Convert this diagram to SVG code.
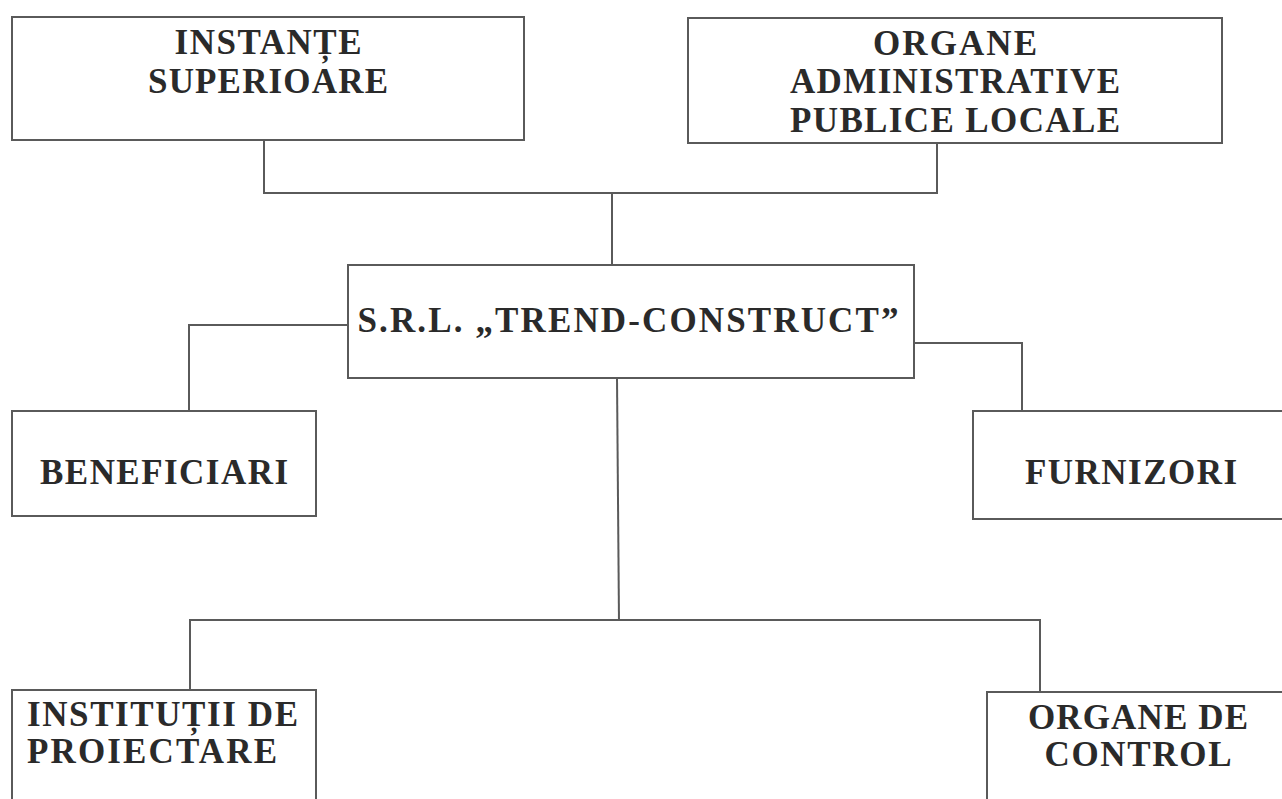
<svg xmlns="http://www.w3.org/2000/svg" width="1282" height="799" viewBox="0 0 1282 799">
<style>
.box{fill:#fff;stroke:#5a5a5a;stroke-width:2}
.ln{fill:none;stroke:#5a5a5a;stroke-width:2}
.t{font-family:"Liberation Serif","Times New Roman",serif;font-weight:bold;font-size:35px;fill:#2a2a2a}
.c{text-anchor:middle}
</style>
<rect width="1282" height="799" fill="#fff"/>
<g id="connectors">
<polyline class="ln" points="264,140 264,193 937,193 937,143"/>
<line class="ln" x1="612" y1="193" x2="612" y2="265"/>
<polyline class="ln" points="348,325 189,325 189,411"/>
<polyline class="ln" points="914,343 1022,343 1022,411"/>
<line class="ln" x1="617" y1="378" x2="619" y2="621"/>
<polyline class="ln" points="190,690 190,620 1040,620 1040,692"/>
</g>
<g id="instante">
<rect class="box" x="12" y="17" width="512" height="123"/>
<text class="t c" x="268" y="54" textLength="187" lengthAdjust="spacing">INSTANȚE</text>
<text class="t c" x="268" y="93" textLength="240" lengthAdjust="spacing">SUPERIOARE</text>
</g>
<g id="organe-admin">
<rect class="box" x="688" y="18" width="534" height="125"/>
<text class="t c" x="955" y="55" textLength="164" lengthAdjust="spacing">ORGANE</text>
<text class="t c" x="955" y="93" textLength="330" lengthAdjust="spacing">ADMINISTRATIVE</text>
<text class="t c" x="955" y="132" textLength="330" lengthAdjust="spacing">PUBLICE LOCALE</text>
</g>
<g id="srl">
<rect class="box" x="348" y="265" width="566" height="113"/>
<text class="t c" x="628" y="332" textLength="541" lengthAdjust="spacing">S.R.L. „TREND-CONSTRUCT”</text>
</g>
<g id="beneficiari">
<rect class="box" x="12" y="411" width="304" height="105"/>
<text class="t c" x="164" y="484" textLength="248" lengthAdjust="spacing">BENEFICIARI</text>
</g>
<g id="furnizori">
<rect class="box" x="973" y="411" width="320" height="108"/>
<text class="t c" x="1131" y="484" textLength="212" lengthAdjust="spacing">FURNIZORI</text>
</g>
<g id="institutii">
<rect class="box" x="12" y="690" width="304" height="130"/>
<text class="t" x="27" y="726" textLength="271" lengthAdjust="spacing">INSTITUȚII DE</text>
<text class="t" x="27" y="763" textLength="250" lengthAdjust="spacing">PROIECTARE</text>
</g>
<g id="organe-control">
<rect class="box" x="987" y="692" width="310" height="130"/>
<text class="t c" x="1138" y="729" textLength="220" lengthAdjust="spacing">ORGANE DE</text>
<text class="t c" x="1138" y="766" textLength="187" lengthAdjust="spacing">CONTROL</text>
</g>
</svg>
